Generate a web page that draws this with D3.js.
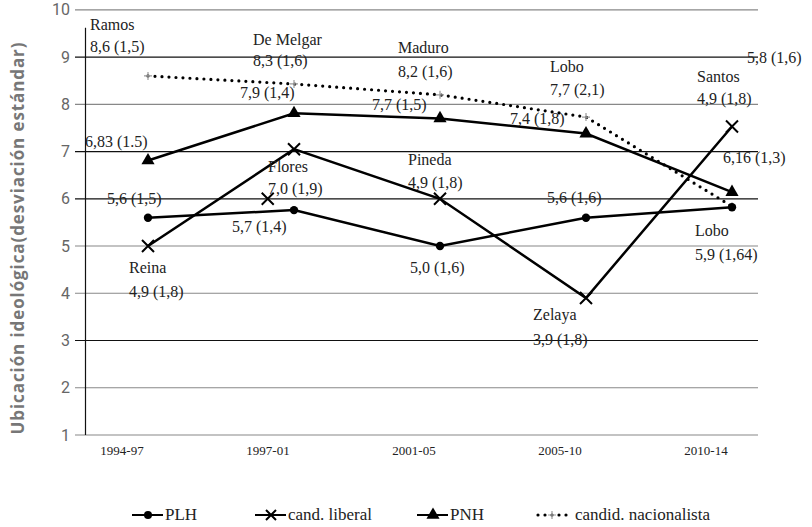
<!DOCTYPE html>
<html>
<head>
<meta charset="utf-8">
<script src="https://cdn.jsdelivr.net/npm/d3@7"></script>
<style>
  body { margin: 0; background: #fff; }
  svg { display: block; }
</style>
</head>
<body>
<div id="chart"></div>
<script>
const width = 812;
const height = 527;
const serif = '"Liberation Serif", "DejaVu Serif", serif';

// data
const periods = ['1994-97', '1997-01', '2001-05', '2005-10', '2010-14'];
const plh = [5.6, 5.76, 5.0, 5.6, 5.82];
const candLiberal = [5.0, 7.05, 6.0, 3.9, 7.53];
const pnh = [6.81, 7.81, 7.7, 7.38, 6.14];
const candNacionalista = [8.6, 8.43, 8.2, 7.73, 5.84];
const strayLiberal = [{ i: 0.82, v: 6.0 }];   // loose marker in the original
const yTicks = [1, 2, 3, 4, 5, 6, 7, 8, 9, 10];
const darkGrid = [3, 6, 7, 9];

// annotation texts, placed in pixels
const notes = [
  ['Ramos', 90, 30], ['8,6 (1,5)', 90, 52],
  ['De Melgar', 253, 45], ['8,3 (1,6)', 253, 66], ['7,9 (1,4)', 240, 98],
  ['Maduro', 398, 53], ['8,2 (1,6)', 398, 77],
  ['Lobo', 550, 72], ['7,7 (2,1)', 550, 95],
  ['7,7 (1,5)', 372, 110], ['7,4 (1,8)', 510, 124],
  ['5,8 (1,6)', 747, 63], ['Santos', 697, 82], ['4,9 (1,8)', 697, 104],
  ['6,16 (1,3)', 723, 163], ['Lobo', 695, 236], ['5,9 (1,64)', 695, 260],
  ['6,83 (1.5)', 85, 147], ['Flores', 268, 172], ['7,0 (1,9)', 268, 194],
  ['5,6 (1,5)', 107, 204], ['5,7 (1,4)', 232, 232],
  ['Pineda', 408, 165], ['4,9 (1,8)', 408, 188], ['5,6 (1,6)', 547, 203],
  ['Reina', 129, 273], ['4,9 (1,8)', 129, 297], ['5,0 (1,6)', 410, 273],
  ['Zelaya', 533, 320], ['3,9 (1,8)', 533, 345]
];

const svg = d3.select('#chart').append('svg')
    .attr('width', width)
    .attr('height', height);

const x = d3.scaleLinear().domain([0, 4]).range([148, 732]);
const y = d3.scaleLinear().domain([1, 10]).range([435, 9.8]);

// grid
svg.append('g').selectAll('line')
    .data(yTicks)
    .enter().append('line')
    .attr('x1', 75).attr('x2', 758)
    .attr('y1', d => y(d)).attr('y2', d => y(d))
    .attr('stroke', d => darkGrid.includes(d) ? '#111' : '#888')
    .attr('stroke-width', 1.2);

svg.append('line')
    .attr('x1', 85.5).attr('x2', 85.5)
    .attr('y1', y(9.62)).attr('y2', y(1))
    .attr('stroke', '#111').attr('stroke-width', 1.2);

// y tick labels
svg.append('g').selectAll('text')
    .data(yTicks)
    .enter().append('text')
    .attr('x', 70).attr('y', d => y(d) + 5.5)
    .attr('text-anchor', 'end')
    .style('font-family', 'Roboto, sans-serif')
    .style('font-size', '16px')
    .style('fill', '#666')
    .text(d => d);

// x labels
svg.append('g').selectAll('text')
    .data(periods)
    .enter().append('text')
    .attr('x', (d, i) => x(i) - 26).attr('y', 455)
    .attr('text-anchor', 'middle')
    .style('font-family', serif)
    .style('font-size', '13px')
    .style('fill', '#222')
    .text(d => d);

// y title
svg.append('text')
    .attr('transform', 'translate(24,238) rotate(-90)')
    .attr('text-anchor', 'middle')
    .style('font-family', '"Open Sans", sans-serif')
    .style('font-weight', 'bold')
    .style('font-size', '17px')
    .style('letter-spacing', '0.9px')
    .style('fill', '#777')
    .text('Ubicación ideológica(desviación estándar)');

const line = d3.line().x((d, i) => x(i)).y(d => y(d));

function xMark(g, cx, cy, s) {
    g.append('path')
        .attr('d', `M${cx - s},${cy - s}L${cx + s},${cy + s}M${cx - s},${cy + s}L${cx + s},${cy - s}`)
        .attr('stroke', '#000').attr('stroke-width', 2).attr('fill', 'none');
}
function plusMark(g, cx, cy) {
    g.append('path')
        .attr('d', `M${cx - 4},${cy}L${cx + 4},${cy}M${cx},${cy - 4}L${cx},${cy + 4}`)
        .attr('stroke', '#999').attr('stroke-width', 1.2);
}
const tri = d3.symbol().type(d3.symbolTriangle).size(75);

// candid. nacionalista (dotted)
svg.append('path').datum(candNacionalista)
    .attr('d', line)
    .attr('fill', 'none').attr('stroke', '#000')
    .attr('stroke-width', 3.2).attr('stroke-linecap', 'round')
    .attr('stroke-dasharray', '0 7');
candNacionalista.forEach((v, i) => plusMark(svg, x(i), y(v)));

// PLH
svg.append('path').datum(plh)
    .attr('d', line)
    .attr('fill', 'none').attr('stroke', '#000').attr('stroke-width', 2.5);
svg.append('g').selectAll('circle')
    .data(plh).enter().append('circle')
    .attr('cx', (d, i) => x(i)).attr('cy', d => y(d)).attr('r', 4.2)
    .attr('fill', '#000');

// cand. liberal
svg.append('path').datum(candLiberal)
    .attr('d', line)
    .attr('fill', 'none').attr('stroke', '#000').attr('stroke-width', 2.5);
candLiberal.forEach((v, i) => xMark(svg, x(i), y(v), 6));
strayLiberal.forEach(d => xMark(svg, x(d.i), y(d.v), 6));

// PNH
svg.append('path').datum(pnh)
    .attr('d', line)
    .attr('fill', 'none').attr('stroke', '#000').attr('stroke-width', 2.5);
svg.append('g').selectAll('path')
    .data(pnh).enter().append('path')
    .attr('d', tri)
    .attr('transform', (d, i) => `translate(${x(i)},${y(d)})`)
    .attr('fill', '#000');

// annotations
svg.append('g').selectAll('text')
    .data(notes)
    .enter().append('text')
    .attr('x', d => d[1]).attr('y', d => d[2])
    .style('font-family', serif)
    .style('font-size', '16px')
    .style('fill', '#222')
    .text(d => d[0]);

// legend
const legendY = 515;
const legendItems = [
  { name: 'PLH', x0: 132 },
  { name: 'cand. liberal', x0: 255 },
  { name: 'PNH', x0: 417 },
  { name: 'candid. nacionalista', x0: 538 }
];
const lg = svg.append('g');
legendItems.forEach((it, k) => {
    const cx = it.x0 + 16;
    if (k === 3) {
        lg.append('line')
            .attr('x1', it.x0).attr('x2', it.x0 + 34)
            .attr('y1', legendY).attr('y2', legendY)
            .attr('stroke', '#000').attr('stroke-width', 3.2)
            .attr('stroke-linecap', 'round').attr('stroke-dasharray', '0 7');
        plusMark(lg, it.x0 + 14, legendY);
    } else {
        lg.append('line')
            .attr('x1', it.x0).attr('x2', it.x0 + 31)
            .attr('y1', legendY).attr('y2', legendY)
            .attr('stroke', '#000').attr('stroke-width', 2);
        if (k === 0) lg.append('circle').attr('cx', cx).attr('cy', legendY).attr('r', 4).attr('fill', '#000');
        if (k === 1) xMark(lg, cx, legendY, 5);
        if (k === 2) lg.append('path').attr('d', tri).attr('transform', `translate(${cx},${legendY})`).attr('fill', '#000');
    }
    lg.append('text')
        .attr('x', it.x0 + (k === 3 ? 37 : 33)).attr('y', legendY + 5)
        .style('font-family', serif)
        .style('font-size', '17px')
        .style('fill', '#222')
        .text(it.name);
});
</script>
</body>
</html>
